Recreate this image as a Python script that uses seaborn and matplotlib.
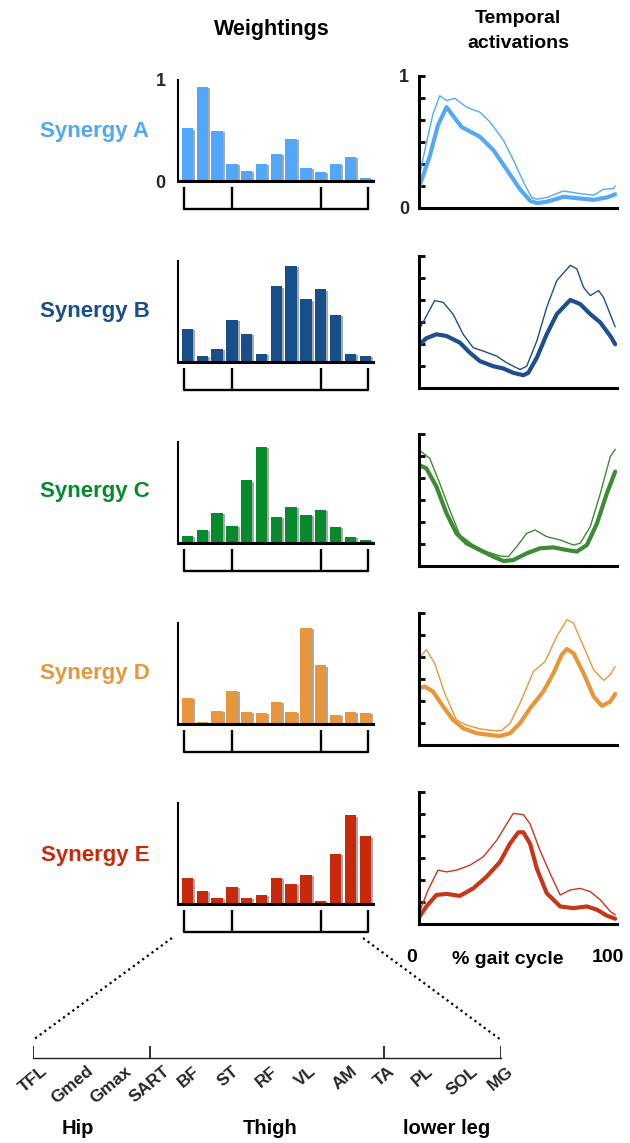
import numpy as np
import matplotlib
matplotlib.use('Agg')
import matplotlib.pyplot as plt
import matplotlib.patheffects as pe
from matplotlib.lines import Line2D
import seaborn as sns

sns.set_style('white')
plt.rcParams['font.family'] = ['Liberation Sans', 'DejaVu Sans']

# Data
muscles = ['TFL', 'Gmed', 'Gmax', 'SART', 'BF', 'ST', 'RF', 'VL', 'AM', 'TA', 'PL', 'SOL', 'MG']
group_names = ['Hip', 'Thigh', 'lower leg']
group_edges = [0, 3, 9, 12]
synergy_names = ['Synergy A', 'Synergy B', 'Synergy C', 'Synergy D', 'Synergy E']
bar_colors = ['#51a7f9', '#174f8a', '#058a2c', '#e8963c', '#c9290b']
line_colors = ['#55a9f4', '#1c4f8b', '#3d8b32', '#e8963a', '#c8361a']

weights_A = [0.52, 0.93, 0.50, 0.17, 0.10, 0.17, 0.27, 0.42, 0.13, 0.09, 0.17, 0.24, 0.03]
weights_B = [0.33, 0.06, 0.13, 0.42, 0.28, 0.08, 0.75, 0.95, 0.62, 0.72, 0.47, 0.08, 0.06]
weights_C = [0.07, 0.13, 0.30, 0.17, 0.62, 0.95, 0.26, 0.36, 0.28, 0.33, 0.16, 0.06, 0.03]
weights_D = [0.26, 0.02, 0.13, 0.33, 0.12, 0.11, 0.22, 0.12, 0.95, 0.58, 0.09, 0.12, 0.11]
weights_E = [0.26, 0.13, 0.06, 0.17, 0.06, 0.09, 0.26, 0.20, 0.29, 0.03, 0.50, 0.88, 0.67]

# temporal activations: thick = mean, thin = mean + sd  (x in % gait cycle)
pct_mean_A = [0, 5.4, 9.6, 13.9, 21.5, 30.7, 37.5, 44.3, 51.0, 56.1, 59.5, 64.5, 73.0, 81.4,
              88.2, 94.9, 99.1]
act_mean_A = [0.154, 0.391, 0.629, 0.764, 0.614, 0.540, 0.440, 0.291, 0.142, 0.055, 0.037,
              0.047, 0.085, 0.072, 0.062, 0.080, 0.104]
pct_upper_A = [0, 3.7, 7.1, 10.5, 13.9, 18.1, 24.0, 30.7, 35.8, 42.6, 47.6, 52.9, 56.9, 59.5,
               64.5, 72.9, 81.4, 88.2, 93.2, 98.3, 99.1]
act_upper_A = [0.229, 0.490, 0.714, 0.851, 0.813, 0.831, 0.764, 0.726, 0.652, 0.515, 0.366,
               0.192, 0.080, 0.067, 0.080, 0.129, 0.109, 0.097, 0.142, 0.147, 0.167]

pct_mean_B = [0, 3.7, 8.8, 13.9, 20.6, 25.7, 30.7, 37.5, 42.6, 47.6, 52.7, 55.2, 59.5, 64.5,
              69.6, 76.4, 81.4, 86.5, 91.6, 96.6, 99.1]
act_mean_B = [0.326, 0.377, 0.407, 0.394, 0.344, 0.267, 0.204, 0.165, 0.148, 0.115, 0.097,
              0.115, 0.229, 0.407, 0.560, 0.667, 0.636, 0.560, 0.496, 0.394, 0.331]
pct_upper_B = [0, 2.9, 7.9, 12.2, 17.2, 22.3, 27.4, 32.4, 39.2, 44.3, 51.0, 54.4, 59.5, 64.5,
               69.6, 76.4, 79.7, 83.1, 86.5, 90.7, 93.2, 99.1]
act_upper_B = [0.440, 0.522, 0.662, 0.649, 0.560, 0.407, 0.305, 0.280, 0.242, 0.191, 0.140,
               0.165, 0.356, 0.611, 0.814, 0.929, 0.903, 0.763, 0.700, 0.738, 0.687, 0.463]

pct_mean_C = [0, 3.7, 8.8, 13.9, 18.9, 24.0, 30.7, 37.5, 42.6, 47.6, 54.4, 61.1, 67.9, 74.7,
              79.7, 84.8, 89.9, 94.9, 99.1]
act_mean_C = [0.765, 0.740, 0.601, 0.399, 0.247, 0.172, 0.121, 0.071, 0.038, 0.045, 0.096,
              0.134, 0.141, 0.121, 0.109, 0.159, 0.323, 0.551, 0.715]
pct_upper_C = [0, 5.4, 10.5, 15.5, 20.6, 27.4, 34.1, 40.9, 45.1, 49.3, 54.4, 58.6, 64.5, 71.3,
               78.0, 81.4, 86.5, 91.6, 96.6, 99.1]
act_upper_C = [0.879, 0.816, 0.626, 0.424, 0.235, 0.159, 0.109, 0.076, 0.071, 0.146, 0.247,
               0.273, 0.222, 0.197, 0.159, 0.172, 0.298, 0.551, 0.828, 0.884]

pct_mean_D = [0, 2.9, 7.1, 12.2, 17.2, 22.3, 29.1, 35.8, 40.9, 46.0, 51.0, 56.1, 62.8, 67.9,
              72.1, 74.7, 78.0, 83.1, 88.2, 92.4, 96.6, 99.1]
act_mean_D = [0.430, 0.443, 0.405, 0.291, 0.190, 0.127, 0.089, 0.076, 0.068, 0.089, 0.165,
              0.278, 0.405, 0.544, 0.684, 0.727, 0.696, 0.544, 0.367, 0.296, 0.329, 0.387]
pct_upper_D = [0, 3.7, 7.9, 13.0, 18.9, 24.0, 30.7, 37.5, 41.7, 46.0, 51.0, 57.8, 63.7, 69.6,
               74.7, 78.0, 83.1, 88.2, 93.2, 96.6, 99.1]
act_upper_D = [0.658, 0.722, 0.620, 0.392, 0.190, 0.152, 0.122, 0.109, 0.109, 0.165, 0.316,
               0.557, 0.633, 0.823, 0.949, 0.924, 0.747, 0.570, 0.489, 0.532, 0.595]

pct_mean_E = [0, 3.7, 8.8, 13.9, 20.6, 27.4, 34.1, 40.9, 45.9, 50.2, 52.7, 56.1, 59.5, 64.5,
              71.3, 78.0, 84.8, 89.9, 94.9, 99.1]
act_mean_E = [0.050, 0.133, 0.220, 0.228, 0.213, 0.270, 0.358, 0.470, 0.608, 0.695, 0.695,
              0.608, 0.420, 0.233, 0.133, 0.120, 0.133, 0.108, 0.063, 0.040]
pct_upper_E = [0, 4.6, 9.6, 13.9, 18.9, 25.7, 32.4, 39.2, 44.3, 47.6, 52.7, 56.1, 61.1, 66.2,
               71.3, 76.4, 81.4, 86.5, 91.6, 96.6, 99.1]
act_upper_E = [0.083, 0.258, 0.408, 0.395, 0.408, 0.445, 0.508, 0.633, 0.758, 0.838, 0.828,
               0.758, 0.558, 0.383, 0.220, 0.258, 0.270, 0.245, 0.183, 0.095, 0.070]

weights = [weights_A, weights_B, weights_C, weights_D, weights_E]
mean_curves = [(pct_mean_A, act_mean_A), (pct_mean_B, act_mean_B), (pct_mean_C, act_mean_C),
               (pct_mean_D, act_mean_D), (pct_mean_E, act_mean_E)]
upper_curves = [(pct_upper_A, act_upper_A), (pct_upper_B, act_upper_B),
                (pct_upper_C, act_upper_C), (pct_upper_D, act_upper_D),
                (pct_upper_E, act_upper_E)]

# Layout (pixels)
W, H = 630, 1143
fig = plt.figure(figsize=(W / 100, H / 100), dpi=100)


def px_axes(left, top, width, height):
    return fig.add_axes([left / W, 1 - (top + height) / H, width / W, height / H])


bar_tops = [80, 261, 442, 623, 803]
line_tops = [76, 256, 434, 613, 792]
label_y = [131, 312, 492, 673, 855]
bold = dict(fontweight='bold', color='black')

for i in range(5):
    # Weightings
    ax = px_axes(178, bar_tops[i], 195, 101)
    sns.barplot(x=muscles, y=weights[i], color=bar_colors[i], saturation=1,
                width=0.76, linewidth=0, edgecolor='none', ax=ax)
    for p in ax.patches:
        p.set_path_effects([pe.SimplePatchShadow(offset=(1.5, -1.0), shadow_rgbFace='#8c8c8c',
                                                 alpha=0.75), pe.Normal()])
    ax.set_xlim(-0.64, 12.53)
    ax.set_ylim(0, 1)
    ax.set_xlabel('')
    ax.set_ylabel('')
    ax.set_xticks([])
    for s in ['top', 'right']:
        ax.spines[s].set_visible(False)
    ax.spines['left'].set_linewidth(1.5)
    ax.spines['bottom'].set_linewidth(2.2)
    for s in ['left', 'bottom']:
        ax.spines[s].set_color('black')
        ax.spines[s].set_zorder(5)
    if i == 0:
        ax.set_yticks([0, 1], labels=['0', '1'])
        ax.tick_params(axis='y', length=0, pad=9, labelsize=13)
        for t in ax.get_yticklabels():
            t.set_fontweight('bold')
    else:
        ax.set_yticks([])
    # muscle-group bracket
    edges = [group_edges[0] - 0.25, group_edges[1], group_edges[2], group_edges[3] + 0.2]
    for e in edges:
        ax.plot([e, e], [-0.06, -0.277], color='black', lw=1.7, clip_on=False,
                solid_capstyle='butt')
    ax.plot([edges[0], edges[-1]], [-0.277, -0.277], color='black', lw=1.7, clip_on=False)

    fig.text(95 / W, 1 - label_y[i] / H, synergy_names[i], ha='center', va='center',
             color=bar_colors[i], fontsize=16, fontweight='bold')

    # Temporal activations
    ax2 = px_axes(419, line_tops[i], 198, 132)
    xu, yu = upper_curves[i]
    xm, ym = mean_curves[i]
    sns.lineplot(x=xu, y=yu, color=line_colors[i], lw=1.0, ax=ax2,
                 solid_joinstyle='round')
    sns.lineplot(x=xm, y=ym, color=line_colors[i], lw=3.0, ax=ax2,
                 solid_joinstyle='round', solid_capstyle='round')
    ax2.set_xlim(0, 100)
    ax2.set_ylim(0, 1)
    ax2.set_xticks([])
    for s in ['top', 'right']:
        ax2.spines[s].set_visible(False)
    for s in ['left', 'bottom']:
        ax2.spines[s].set_linewidth(2.2)
        ax2.spines[s].set_color('black')
    yt = np.linspace(0, 1, 7)
    if i == 0:
        ax2.set_yticks(yt, labels=['0', '', '', '', '', '', '1'])
        for t in ax2.get_yticklabels():
            t.set_fontweight('bold')
    else:
        ax2.set_yticks(yt, labels=[''] * 7)
    ax2.tick_params(axis='y', direction='in', length=4.5, width=2.0, color='black',
                    pad=7, labelsize=13, left=True)

# Titles
fig.text(272 / W, 1 - 30 / H, 'Weightings', ha='center', va='center', fontsize=15.5, **bold)
fig.text(518 / W, 1 - 31 / H, 'Temporal\nactivations', ha='center', va='center',
         fontsize=14, linespacing=1.55, **bold)

# gait cycle axis labels
fig.text(412 / W, 1 - 957 / H, '0', ha='center', va='center', fontsize=14, **bold)
fig.text(508 / W, 1 - 960 / H, '% gait cycle', ha='center', va='center', fontsize=14, **bold)
fig.text(608 / W, 1 - 957 / H, '100', ha='center', va='center', fontsize=14, **bold)

# Expanded muscle axis
axm = px_axes(33, 1000, 468, 58)
axm.set_xlim(0, 12)
axm.set_ylim(0, 1)
axm.patch.set_alpha(0)
for s in ['top', 'right', 'left']:
    axm.spines[s].set_visible(False)
axm.spines['bottom'].set_linewidth(1.0)
axm.spines['bottom'].set_color('#222222')
axm.set_yticks([])
axm.set_xticks(range(len(muscles)), labels=muscles, rotation=40, fontsize=12.5,
               fontweight='bold')
axm.tick_params(axis='x', which='major', length=0, pad=4)
axm.vlines(group_edges, 0, 0.2, color='#222222', lw=1.3)

for name, x in zip(group_names, [78, 270, 447]):
    fig.text(x / W, 1 - 1128 / H, name, ha='center', va='center', fontsize=14.5, **bold)

# dotted zoom lines
for x0, x1 in [(172, 33), (363, 501)]:
    fig.add_artist(Line2D([x0 / W, x1 / W], [1 - 938 / H, 1 - 1040 / H], color='black',
                          lw=1.6, linestyle=(0, (1, 1.6)), transform=fig.transFigure))

fig.savefig('out.png', dpi=100)
